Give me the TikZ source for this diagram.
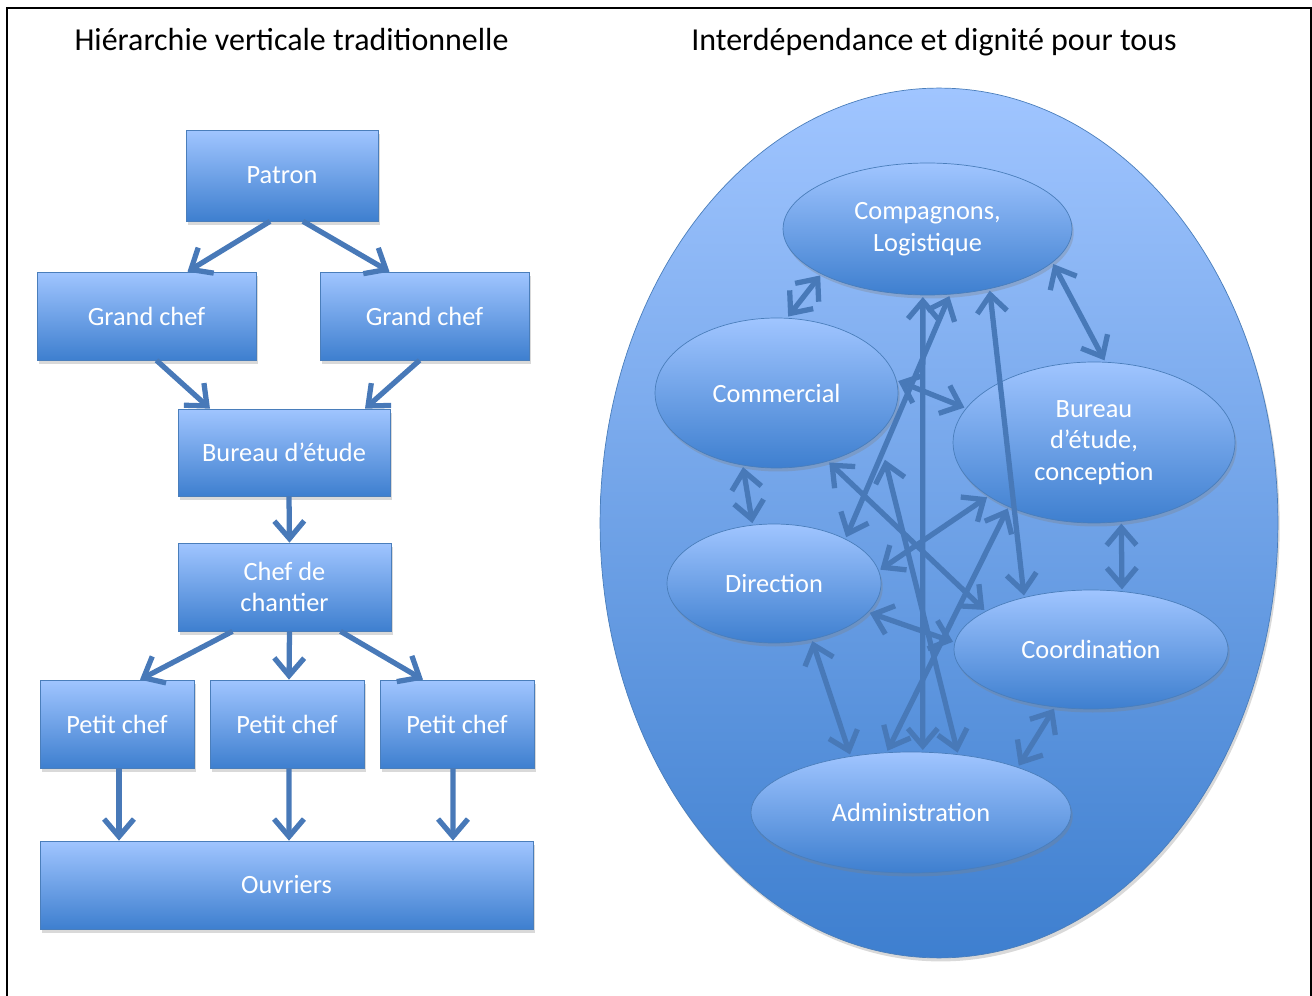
\documentclass[tikz,border=0pt]{standalone}
\usepackage{fontspec}
\setmainfont{Carlito}
\usepackage{tikz}
\usetikzlibrary{arrows.meta,shapes.geometric,shadows,calc}

\definecolor{shtop}{HTML}{A0C5FF}
\definecolor{shbot}{HTML}{3E7FCF}
\definecolor{boxline}{HTML}{4A7EBB}
\definecolor{linkblue}{HTML}{4879B8}

\tikzset{
  title/.style={anchor=base, font=\fontsize{18.2}{22}\selectfont},
  box/.style={rectangle, draw=boxline, top color=shtop, bottom color=shbot,
    text=white, align=center, font=\fontsize{15}{18}\selectfont,
    drop shadow={shadow xshift=1pt, shadow yshift=-2pt, opacity=0.3}},
  blob/.style={box, ellipse, inner sep=0pt},
  pointer/.style={draw=linkblue, line width=3pt, line join=round,
    -{Straight Barb[length=10pt,width=17pt]}},
  twoway/.style={pointer, shorten <=1pt, shorten >=1pt,
    {Straight Barb[length=10pt,width=17pt]}-{Straight Barb[length=10pt,width=17pt]}}
}

\begin{document}
\begin{tikzpicture}[x=0.02cm,y=-0.02cm]
\useasboundingbox (0,0) rectangle (1312,996);
\draw[line width=1.2pt] (7,996) -- (7,8) -- (1311,8) -- (1311,996);

\node[title] (lefttitle) at (291.5,51) {Hiérarchie verticale traditionnelle};
\node[title] (righttitle) at (934,51) {Interdépendance et dignité pour tous};

% vertical hierarchy
\node[box, minimum width=3.84cm, minimum height=1.82cm] (patron) at (282,175.5) {Patron};
\node[box, minimum width=4.38cm, minimum height=1.76cm] (gcl) at (146.5,316) {Grand chef};
\node[box, minimum width=4.18cm, minimum height=1.76cm] (gcr) at (424.5,316) {Grand chef};
\node[box, minimum width=4.24cm, minimum height=1.74cm] (bureau) at (284,452.5) {Bureau d’étude};
\node[box, minimum width=4.26cm, minimum height=1.76cm] (chef) at (284.5,587) {Chef de\\chantier};
\foreach \i/\xx in {1/117,2/287,3/457}
  \node[box, minimum width=3.08cm, minimum height=1.76cm] (petit\i) at (\xx,724) {Petit chef};
\node[box, minimum width=9.86cm, minimum height=1.76cm] (ouvriers) at (286.5,885) {Ouvriers};

\draw[pointer] ($(patron.south)+(-12,0)$) -- ($(gcl.north)+(41,0)$);
\draw[pointer] ($(patron.south)+(21,0)$) -- ($(gcr.north)+(-35,0)$);
\draw[pointer] ($(gcl.south)+(10,0)$) -- ($(bureau.north)+(-74,0)$);
\draw[pointer] ($(gcr.south)+(-5,0)$) -- ($(bureau.north)+(81,0)$);
\draw[pointer] ($(bureau.south)+(5,0)$) -- ($(chef.north)+(5,0)$);
\foreach \i/\sa/\ta in {1/-52/23,2/5/2,3/56/-34}
  \draw[pointer] ($(chef.south)+(\sa,0)$) -- ($(petit\i.north)+(\ta,0)$);
\foreach \i/\sa/\ta in {1/2/-167.5,2/2/2.5,3/-4/166.5}
  \draw[pointer] ($(petit\i.south)+(\sa,0)$) -- ($(ouvriers.north)+(\ta,0)$);

% interdependence
\node[blob, minimum width=13.56cm, minimum height=17.4cm] (outer) at (939,523) {};
\node[blob, minimum width=5.78cm, minimum height=2.64cm] (comp) at (927.5,229) {Compagnons,\\Logistique};
\node[blob, minimum width=4.86cm, minimum height=3cm] (comm) at (776.5,393) {Commercial};
\node[blob, minimum width=5.64cm, minimum height=3.22cm] (bur) at (1094,442.5) {Bureau\\d’étude,\\conception};
\node[blob, minimum width=4.28cm, minimum height=2.38cm] (dir) at (774,583.5) {Direction};
\node[blob, minimum width=5.48cm, minimum height=2.38cm] (coord) at (1091,649.5) {Coordination};
\node[blob, minimum width=6.4cm, minimum height=2.42cm] (adm) at (911,812.5) {Administration};

\draw[twoway] (comm.82) -- (comp.203);
\draw[twoway] (comp.-15) -- (bur.82);
\draw[twoway] (comp.-94) -- (adm.79);
\draw[twoway] (comp.-71) -- (dir.32);
\draw[twoway] (comp.-44) -- (coord.142);
\draw[twoway] (comm.6) -- (bur.165);
\draw[twoway] (comm.-53) -- (coord.160);
\draw[twoway] ($(comm.center)+(108,65)$) -- (adm.51);
\draw[twoway] (dir.7) -- (bur.207);
\draw[twoway] (bur.217) -- (adm.112);
\draw[twoway] (dir.-17) -- (coord.177);
\draw[twoway] (dir.-56) -- (adm.137);
\draw[twoway] (coord.-122) -- (adm.23);
\draw[twoway] (bur.-71) -- (coord.62);
\draw[twoway] (comm.-115) -- (dir.110);
\end{tikzpicture}
\end{document}
